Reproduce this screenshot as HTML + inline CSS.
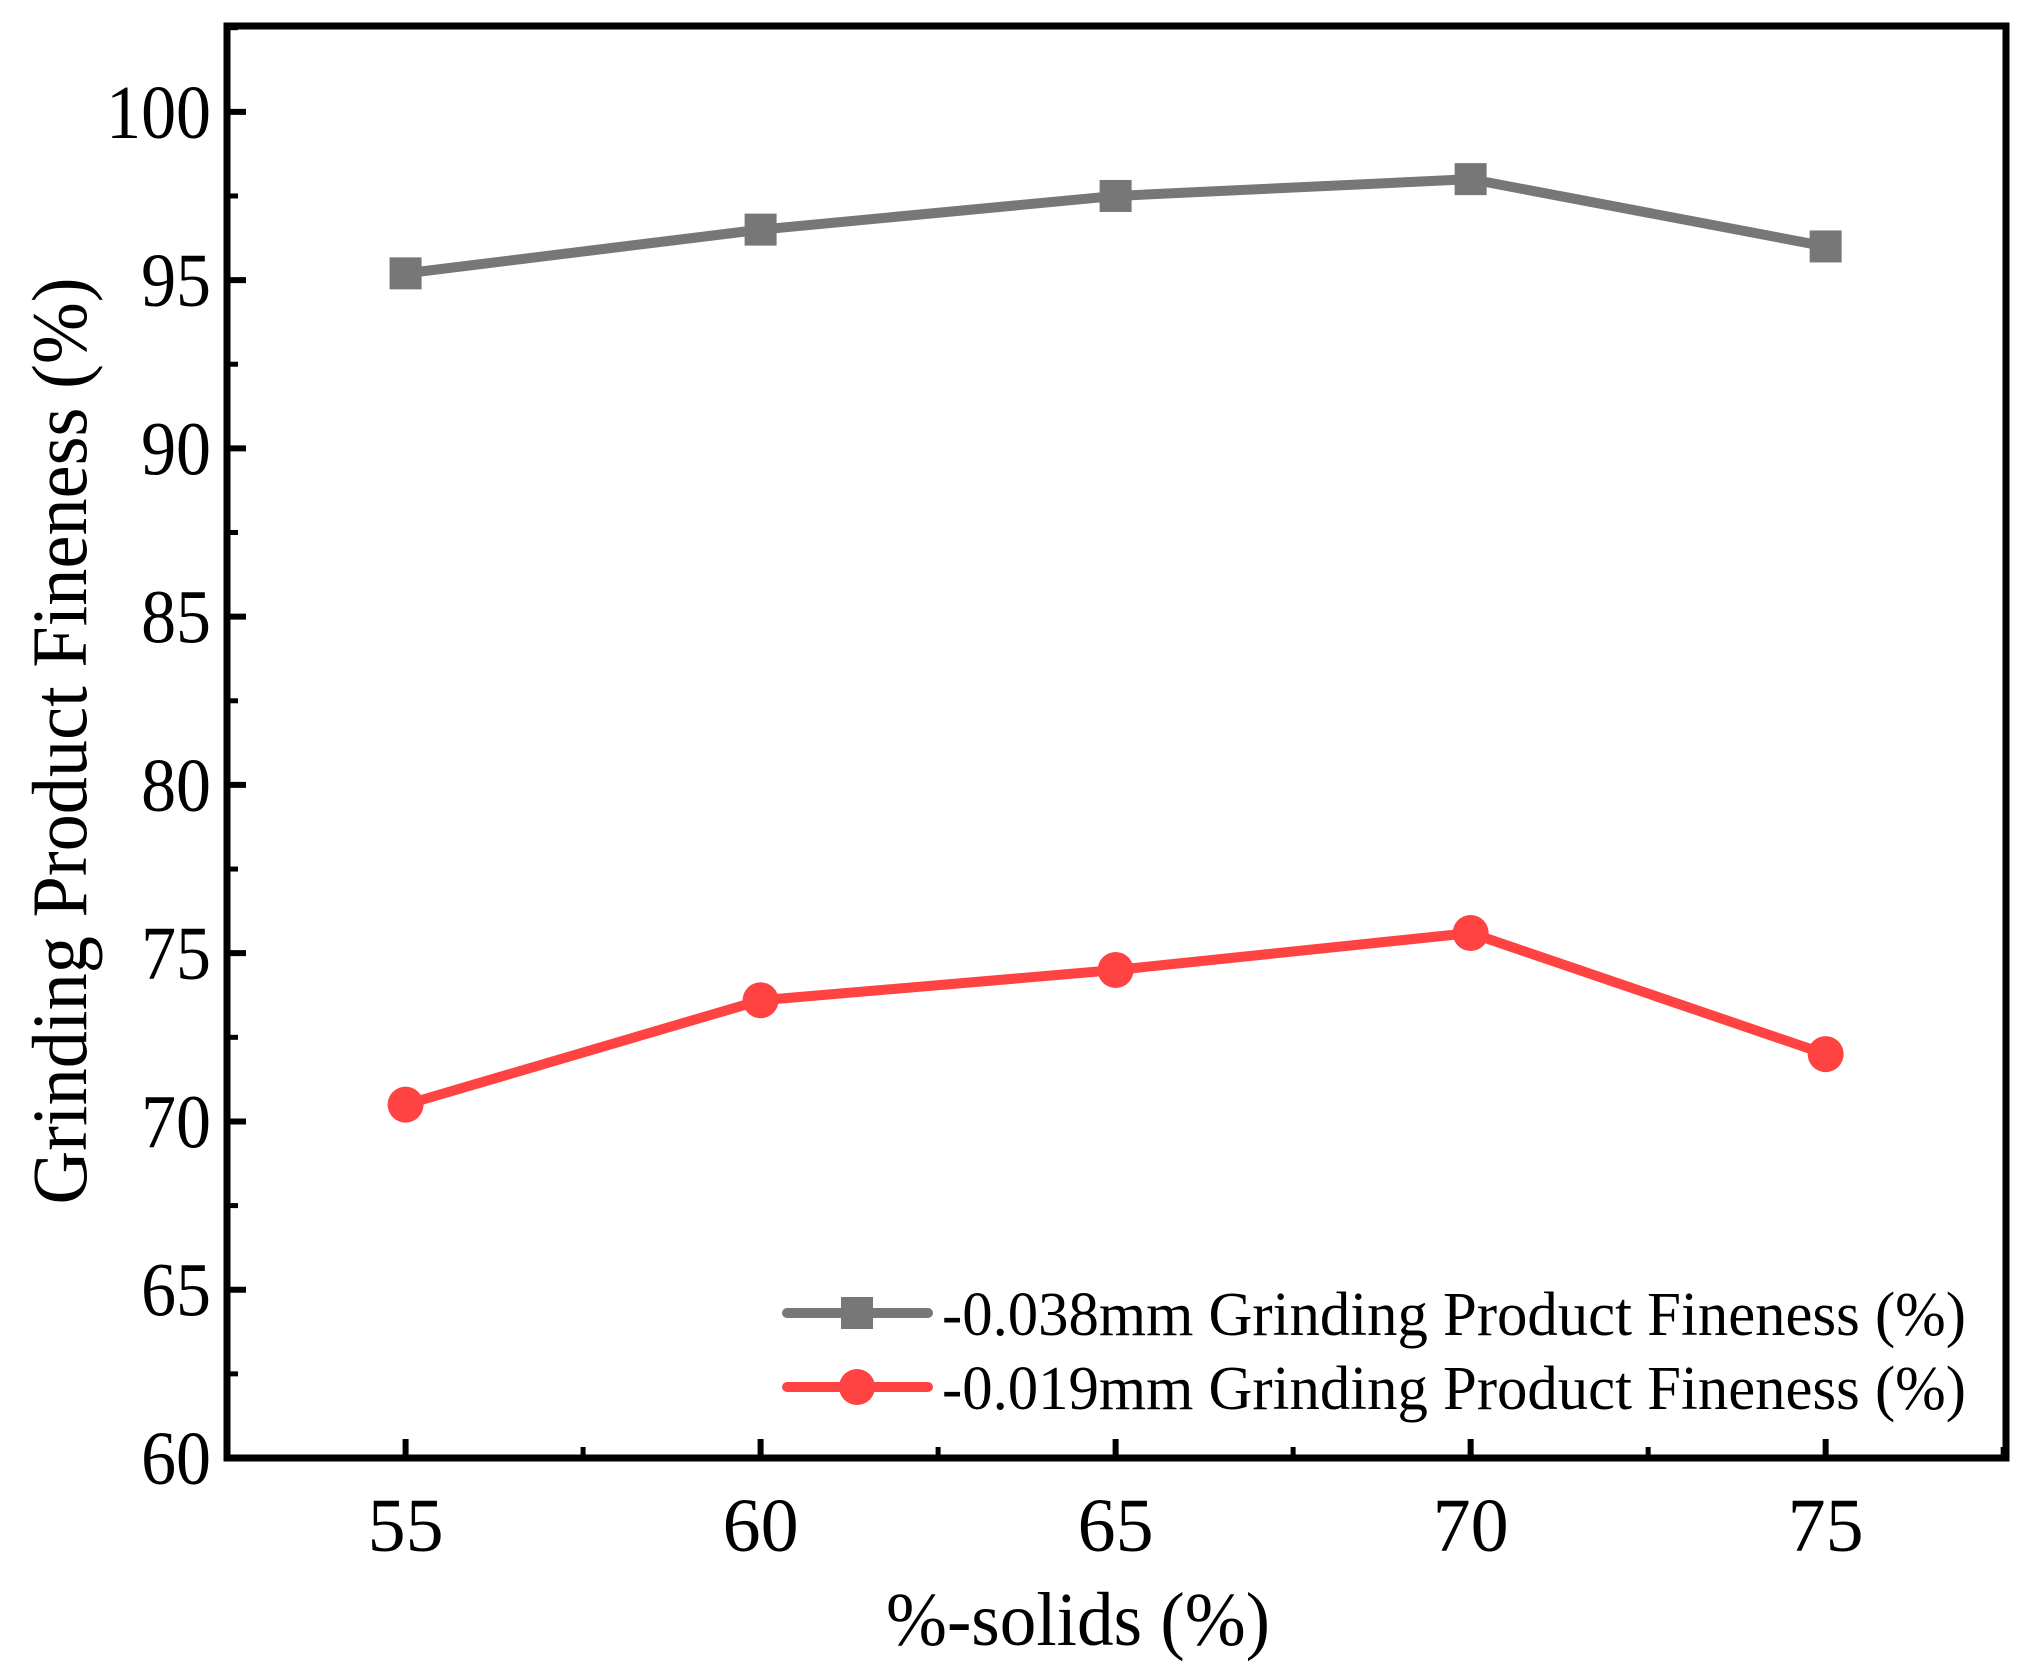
<!DOCTYPE html>
<html><head><meta charset="utf-8"><style>
html,body{margin:0;padding:0;background:#fff;}
svg{display:block;font-family:"Liberation Serif",serif;}
</style></head><body>
<svg id="chart" width="2032" height="1675" viewBox="0 0 2032 1675" xmlns="http://www.w3.org/2000/svg">
<g id="plot"></g>
</svg>
<script>
const categories = [55, 60, 65, 70, 75];
const seriesCoarse = [95.2, 96.5, 97.5, 98.0, 96.0];
const seriesFine = [70.5, 73.6, 74.5, 75.6, 72.0];
const yTicks = [60, 65, 70, 75, 80, 85, 90, 95, 100];
const xTicks = [55, 60, 65, 70, 75];
const legendLabels = ["-0.038mm Grinding Product Fineness (%)", "-0.019mm Grinding Product Fineness (%)"];

const L = 227, R = 2006, T = 26, B = 1458;
const xMin = 52.485, xMax = 77.54, yMin = 60, yMax = 102.55;
const xs = v => L + (v - xMin) / (xMax - xMin) * (R - L);
const ys = v => B - (v - yMin) / (yMax - yMin) * (B - T);
const NS = "http://www.w3.org/2000/svg";
const g = document.getElementById('plot');
function mk(tag, attrs, parent) {
  const e = document.createElementNS(NS, tag);
  for (const k in attrs) e.setAttribute(k, attrs[k]);
  (parent || g).appendChild(e);
  return e;
}
for (let v = 62.5; v < yMax; v += 5) {
  const t = mk('line', {x1: L, x2: L + 11, y1: ys(v), y2: ys(v), stroke: '#000', 'stroke-width': 5});
  
  
}
yTicks.forEach(v => {
  const t = mk('line', {x1: L, x2: L + 19, y1: ys(v), y2: ys(v), stroke: '#000', 'stroke-width': 6});
  
  
  const tx = mk('text', {x: 211, y: ys(v) + 26, 'text-anchor': 'end', 'font-size': 76, transform: 'translate(211,0) scale(0.92,1) translate(-211,0)'});
  tx.textContent = v;
  
  
});
for (let v = 57.5; v < xMax; v += 5) {
  const t = mk('line', {x1: xs(v), x2: xs(v), y1: B, y2: B - 11, stroke: '#000', 'stroke-width': 5});
  
  
}
xTicks.forEach(v => {
  const t = mk('line', {x1: xs(v), x2: xs(v), y1: B, y2: B - 19, stroke: '#000', 'stroke-width': 6});
  
  
  const tx = mk('text', {x: xs(v), y: 1551, 'text-anchor': 'middle', 'font-size': 76});
  tx.textContent = v;
  
  
});
const fr = mk('rect', {x: L, y: T, width: R - L, height: B - T, fill: 'none', stroke: '#000', 'stroke-width': 7});



function series(vals, color, shape, name) {
  const pts = vals.map((v, i) => xs(categories[i]) + ',' + ys(v)).join(' ');
  const pl = mk('polyline', {points: pts, fill: 'none', stroke: color, 'stroke-width': 10, 'stroke-linejoin': 'round'});
  
  
  vals.forEach((v, i) => {
    let m;
    if (shape === 'square') m = mk('rect', {x: xs(categories[i]) - 16, y: ys(v) - 16, width: 32, height: 32, fill: color});
    else m = mk('circle', {cx: xs(categories[i]), cy: ys(v), r: 18, fill: color});
    
    
  });
}
series(seriesCoarse, '#777777', 'square', 'coarse-series');
series(seriesFine, '#ff4242', 'circle', 'fine-series');

const lg = [[1313, '#777777', 'square'], [1387, '#ff4242', 'circle']];
lg.forEach((r, i) => {
  const ln = mk('line', {x1: 787, x2: 928, y1: r[0], y2: r[0], stroke: r[1], 'stroke-width': 10, 'stroke-linecap': 'round'});
  
  
  let m;
  if (r[2] === 'square') m = mk('rect', {x: 841, y: r[0] - 16, width: 32, height: 32, fill: r[1]});
  else m = mk('circle', {cx: 857, cy: r[0], r: 18, fill: r[1]});
  
  
  const tx = mk('text', {x: 942, y: r[0] + 22, 'font-size': 62, textLength: 1024, lengthAdjust: 'spacingAndGlyphs'});
  tx.textContent = legendLabels[i];
  
  
});
const xt = mk('text', {x: 1078, y: 1645, 'text-anchor': 'middle', 'font-size': 76, textLength: 384, lengthAdjust: 'spacingAndGlyphs'});
xt.textContent = '%-solids (%)';


const yt = mk('text', {x: 0, y: 0, 'text-anchor': 'middle', 'font-size': 78, textLength: 927, lengthAdjust: 'spacingAndGlyphs', transform: 'translate(86,741) rotate(-90)'});
yt.textContent = 'Grinding Product Fineness (%)';


</script>
</body></html>
